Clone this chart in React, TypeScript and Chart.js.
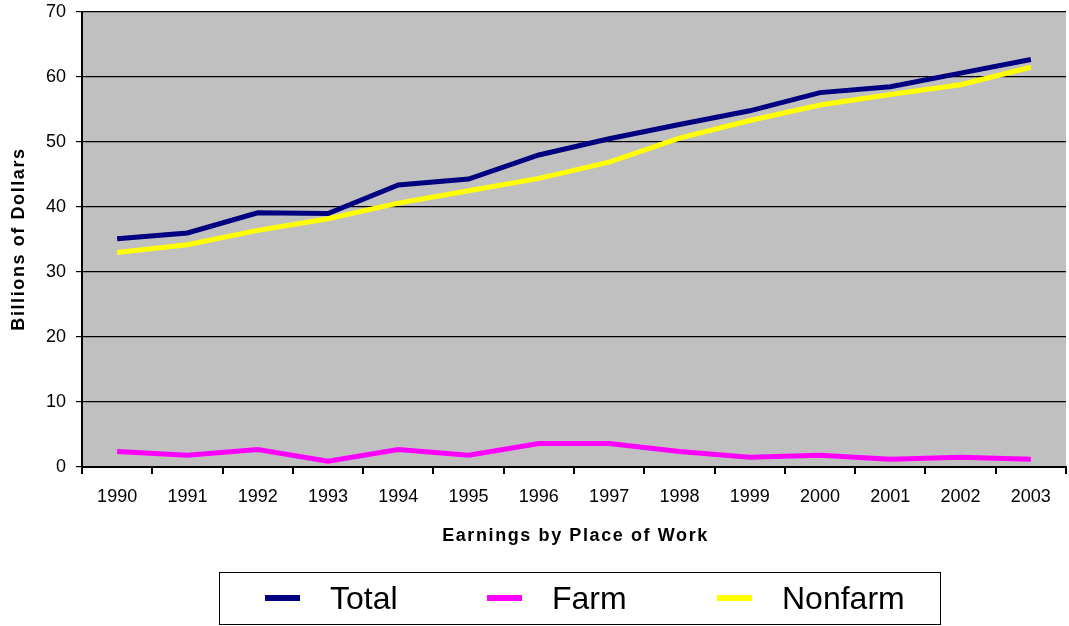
import React, { useEffect, useRef } from "react";
import { Chart, registerables } from "chart.js";

Chart.register(...registerables);

const years = ["1990","1991","1992","1993","1994","1995","1996","1997","1998","1999","2000","2001","2002","2003"];
const totalValues = [35.1, 36.0, 39.1, 39.0, 43.4, 44.3, 48.0, 50.5, 52.7, 54.8, 57.6, 58.5, 60.6, 62.7];
const farmValues = [2.4, 1.8, 2.7, 0.9, 2.7, 1.8, 3.6, 3.6, 2.4, 1.5, 1.8, 1.2, 1.5, 1.2];
const nonfarmValues = [33.0, 34.2, 36.4, 38.2, 40.6, 42.5, 44.4, 46.9, 50.6, 53.3, 55.7, 57.3, 58.8, 61.5];

const seriesNames = ["Total", "Farm", "Nonfarm"];
const seriesColors = ["#000080", "#FF00FF", "#FFFF00"];
const xTitle = "Earnings by Place of Work";
const yTitle = "Billions of Dollars";

const FONT = "'Liberation Sans', Arial, sans-serif";

const bgPlugin = {
  id: "plotBg",
  beforeDraw(chart: any) {
    const { ctx, chartArea } = chart;
    ctx.save();
    ctx.fillStyle = "#C0C0C0";
    ctx.fillRect(chartArea.left, chartArea.top, chartArea.right - chartArea.left, chartArea.bottom - chartArea.top);
    ctx.restore();
  },
};

export default function App() {
  const ref = useRef<HTMLCanvasElement>(null);
  useEffect(() => {
    if (!ref.current) return;
    const chart = new Chart(ref.current, {
      type: "line",
      data: {
        labels: years,
        datasets: [
          { label: seriesNames[0], data: totalValues, borderColor: seriesColors[0], backgroundColor: seriesColors[0], borderWidth: 5, pointRadius: 0, tension: 0 },
          { label: seriesNames[1], data: farmValues, borderColor: seriesColors[1], backgroundColor: seriesColors[1], borderWidth: 5, pointRadius: 0, tension: 0 },
          { label: seriesNames[2], data: nonfarmValues, borderColor: seriesColors[2], backgroundColor: seriesColors[2], borderWidth: 5, pointRadius: 0, tension: 0 },
        ],
      },
      options: {
        animation: false,
        responsive: false,
        maintainAspectRatio: false,
        layout: { padding: { left: 0, right: 3, top: 12, bottom: 0 } },
        plugins: { legend: { display: false }, tooltip: { enabled: false } },
        scales: {
          x: {
            offset: true,
            afterFit(scale: any) { scale.height = 159; scale.paddingLeft = 0; scale.paddingRight = 0; },
            grid: { offset: true, drawOnChartArea: false, color: "#000", tickLength: 7, lineWidth: 2 },
            border: { color: "#000", width: 2 },
            ticks: { color: "#000", font: { family: FONT, size: 18 }, padding: 12, maxRotation: 0 },
          },
          y: {
            min: 0,
            max: 70,
            afterFit(scale: any) { scale.width = 82; scale.paddingTop = 0; scale.paddingBottom = 0; },
            ticks: { stepSize: 10, color: "#000", font: { family: FONT, size: 18 }, padding: 10 },
            grid: { color: "#000", lineWidth: 1.2, tickLength: 6, drawTicks: true },
            border: { color: "#000", width: 2 },
          },
        },
      },
      plugins: [bgPlugin],
    });
    return () => chart.destroy();
  }, []);

  const titleStyle: React.CSSProperties = {
    position: "absolute",
    fontFamily: FONT,
    fontWeight: "bold",
    fontSize: 18,
    letterSpacing: "1.6px",
    color: "#000",
    whiteSpace: "nowrap",
    lineHeight: "20px",
  };

  return (
    <div style={{ position: "absolute", left: 0, top: 0, width: 1069, height: 626, background: "#fff", overflow: "hidden" }}>
      <canvas ref={ref} width={1069} height={626} style={{ display: "block" }} />
      <div style={{ ...titleStyle, left: 0, width: 1069, top: 525, textAlign: "center", paddingLeft: 82, boxSizing: "border-box" }}>
        {xTitle}
      </div>
      <div
        style={{
          ...titleStyle,
          left: 18,
          top: 239,
          width: 300,
          textAlign: "center",
          transform: "translate(-50%, -50%) rotate(-90deg)",
        }}
      >
        {yTitle}
      </div>
      <div
        style={{
          position: "absolute",
          left: 219,
          top: 572,
          width: 722,
          height: 53,
          border: "1.5px solid #000",
          boxSizing: "border-box",
          fontFamily: FONT,
          fontSize: 32,
          color: "#000",
        }}
      >
        {seriesNames.map((n, i) => (
          <div key={n} style={{ position: "absolute", left: [45, 267, 497][i], top: 0, height: 50, display: "flex", alignItems: "center" }}>
            <span style={{ display: "inline-block", width: 35, height: 6, background: seriesColors[i], marginRight: 30 }} />
            <span>{n}</span>
          </div>
        ))}
      </div>
    </div>
  );
}
